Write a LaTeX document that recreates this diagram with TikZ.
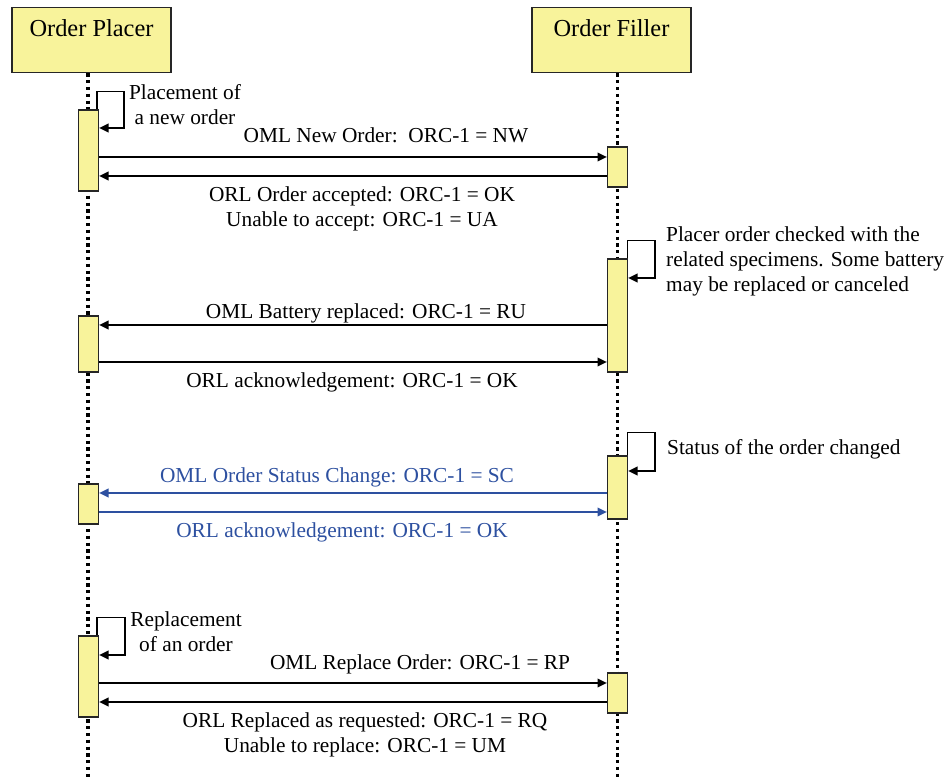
\documentclass[tikz,border=0pt]{standalone}
\usepackage{fontspec}
\setmainfont{Liberation Serif}
\usetikzlibrary{arrows.meta}

\definecolor{actyellow}{RGB}{248,243,155}
\definecolor{msgblue}{RGB}{45,80,160}

\begin{document}
\begin{tikzpicture}[x=0.75pt,y=-0.75pt,>={Triangle[length=7pt,width=6.5pt]},
  line width=1.1pt,font=\fontsize{16}{18.75}\selectfont,
  actor node/.style={draw=black!85,fill=actyellow,line width=1pt,anchor=north,
    minimum width=119.25pt,inner ysep=4pt,text height=17.75pt,text depth=23pt,
    font=\fontsize{18.3}{22}\selectfont},
  act node/.style={draw=black!85,fill=actyellow,line width=1pt,inner sep=0pt,
    minimum width=15pt,minimum height=#1*0.75pt},
  life line/.style={line width=2.5pt,dash pattern=on 2.5pt off 2.6pt},
  blue msg/.style={msgblue,text=msgblue}]

  \useasboundingbox (0,0) rectangle (951,780);

  % actors and lifelines
  \node[actor node] (placer) at (91.5,7) {Order Placer};
  \node[actor node] (filler) at (611.5,7) {Order Filler};
  \coordinate (pend) at (88,780);
  \coordinate (fend) at (617.5,780);
  \draw[life line] (placer.south -| pend) -- (pend);
  \draw[life line] (filler.south -| fend) -- (fend);

  % activation boxes
  \node[act node=81] (pa1) at (88.5,150.5) {};
  \node[act node=56] (pa2) at (88.5,344) {};
  \node[act node=40] (pa3) at (88.5,504) {};
  \node[act node=81] (pa4) at (88.5,676.5) {};
  \node[act node=40] (fa1) at (617.5,167) {};
  \node[act node=113] (fa2) at (617.5,315.5) {};
  \node[act node=63] (fa3) at (617.5,487.5) {};
  \node[act node=40] (fa4) at (617.5,693) {};

  % self calls
  \coordinate (l1) at (124,128);
  \coordinate (l2) at (655,278);
  \coordinate (l3) at (655,471);
  \coordinate (l4) at (125,655);
  \draw[->] ([xshift=-1.5pt]pa1.north east) -- ++(0,-18) -| (l1) -- (pa1.east |- l1);
  \draw[->] ([xshift=-0.5pt]fa2.north east) -- ++(0,-18) -| (l2) -- (fa2.east |- l2);
  \draw[->] ([xshift=-0.5pt]fa3.north east) -- ++(0,-23) -| (l3) -- (fa3.east |- l3);
  \draw[->] ([xshift=-1.5pt]pa4.north east) -- ++(0,-18) -| (l4) -- (pa4.east |- l4);

  \node[align=center,anchor=base] (n1) at (185,125) {Placement of\\a new order};
  \node[align=left,anchor=base west] (n2) at (661,292)
    {Placer order checked with the\\related specimens. Some battery\\may be replaced or canceled};
  \node[anchor=base west] (n3) at (662,455) {Status of the order changed};
  \node[align=center,anchor=base] (n4) at (186,652) {Replacement\\of an order};

  % messages
  \coordinate (m1) at (0,157);
  \coordinate (m2) at (0,176);
  \coordinate (m3) at (0,325);
  \coordinate (m4) at (0,362);
  \coordinate (m5) at (0,493);
  \coordinate (m6) at (0,512);
  \coordinate (m7) at (0,683);
  \coordinate (m8) at (0,702);

  \draw[->] (pa1.east |- m1) -- (fa1.west |- m1);
  \draw[->] (fa1.west |- m2) -- (pa1.east |- m2);
  \draw[->] (fa2.west |- m3) -- (pa2.east |- m3);
  \draw[->] (pa2.east |- m4) -- (fa2.west |- m4);
  \draw[->,blue msg] (fa3.west |- m5) -- (pa3.east |- m5);
  \draw[->,blue msg] (pa3.east |- m6) -- (fa3.west |- m6);
  \draw[->] (pa4.east |- m7) -- (fa4.west |- m7);
  \draw[->] (fa4.west |- m8) -- (pa4.east |- m8);

  \node[anchor=base] (t1) at (386,143) {OML New Order:\ \ ORC-1 = NW};
  \node[align=center,anchor=base] (t2) at (362,227)
    {ORL Order accepted: ORC-1 = OK\\Unable to accept: ORC-1 = UA};
  \node[anchor=base] (t3) at (366,319) {OML Battery replaced: ORC-1 = RU};
  \node[anchor=base] (t4) at (352,388) {ORL acknowledgement: ORC-1 = OK};
  \node[anchor=base,blue msg] (t5) at (337,483) {OML Order Status Change: ORC-1 = SC};
  \node[anchor=base,blue msg] (t6) at (342,538) {ORL acknowledgement: ORC-1 = OK};
  \node[anchor=base] (t7) at (420,670) {OML Replace Order: ORC-1 = RP};
  \node[align=center,anchor=base] (t8) at (365,753)
    {ORL Replaced as requested: ORC-1 = RQ\\Unable to replace: ORC-1 = UM};

\end{tikzpicture}
\end{document}
